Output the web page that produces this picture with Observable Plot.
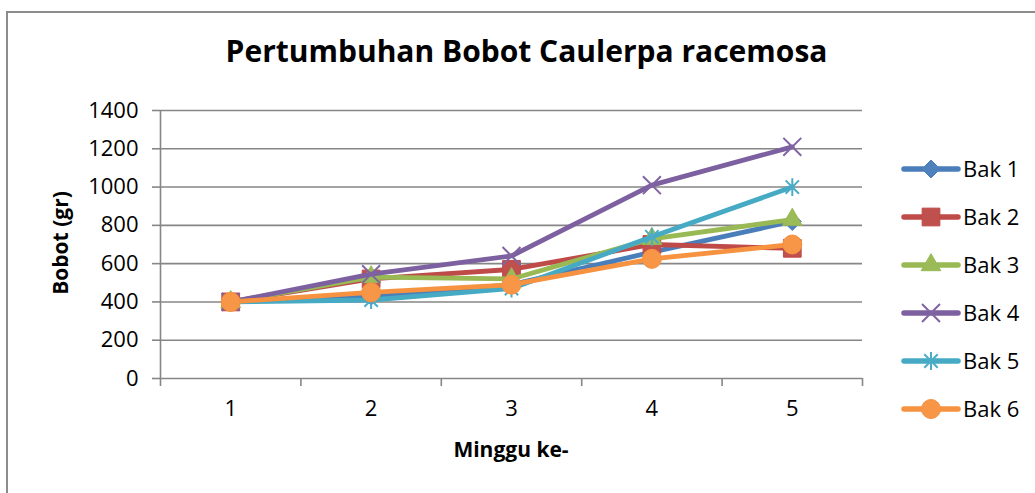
<!DOCTYPE html>
<html>
<head>
<meta charset="utf-8">
<script src="https://cdn.jsdelivr.net/npm/d3@7"></script>
<script src="https://cdn.jsdelivr.net/npm/@observablehq/plot@0.6"></script>
<style>
  html, body { margin: 0; padding: 0; background: #fff; overflow: hidden; }
  #wrap { position: relative; width: 1035px; height: 493px; overflow: hidden; font-family: "Open Sans", sans-serif; }
  #border { position: absolute; left: 6px; top: 11px; width: 1100px; height: 600px; border: 2px solid #8c8c8c; box-sizing: border-box; }
  #chart, #overlay { position: absolute; left: 0; top: 0; }
</style>
</head>
<body>
<div id="wrap">
  <div id="border"></div>
  <div id="chart"></div>
  <svg id="overlay" width="1035" height="493"></svg>
</div>
<script>
// ---- data ----
const title = "Pertumbuhan Bobot Caulerpa racemosa";
const xTitle = "Minggu ke-";
const yTitle = "Bobot (gr)";
const weeks = [1, 2, 3, 4, 5];
const seriesNames = ["Bak 1", "Bak 2", "Bak 3", "Bak 4", "Bak 5", "Bak 6"];
const bak1 = [400, 430, 490, 660, 820];
const bak2 = [400, 520, 570, 700, 680];
const bak3 = [400, 530, 520, 730, 830];
const bak4 = [400, 545, 640, 1010, 1210];
const bak5 = [400, 410, 470, 740, 1000];
const bak6 = [400, 450, 490, 625, 700];
const yTicks = [0, 200, 400, 600, 800, 1000, 1200, 1400];

const seriesValues = [bak1, bak2, bak3, bak4, bak5, bak6];
const lineColors = ["#4A7EBB", "#BE4B48", "#98B954", "#7D60A0", "#46AAC5", "#F69240"];
const markColors = ["#4F81BD", "#C0504D", "#9BBB59", "#8064A2", "#4BACC6", "#F79646"];

// Excel-style star marker: vertical bar plus an X
const excelStar = {
  draw(context, size) {
    const r = Math.sqrt(size / Math.PI) * 1.05;
    const k = r * 0.75;
    context.moveTo(0, -r); context.lineTo(0, r);
    context.moveTo(-k, -k); context.lineTo(k, k);
    context.moveTo(-k, k); context.lineTo(k, -k);
  }
};
const symbolObjs = [d3.symbolDiamond2, d3.symbolSquare, d3.symbolTriangle, d3.symbolTimes, excelStar, d3.symbolCircle];
const symbolR = [8.1, 10, 7.3, 8.2, 8.5, 9.5];
const strokeOnly = [false, false, false, true, true, false];

const rows = seriesNames.flatMap((s, i) =>
  weeks.map((w, j) => ({ series: s, week: w, value: seriesValues[i][j] })));
const boundaries = [0.5, ...weeks.map(w => w + 0.5)];

const grid = "#868686";
const fmt = d => String(d);
const marks = [
  Plot.gridY(yTicks, { stroke: grid, strokeOpacity: 1, strokeWidth: 1.6 }),
  Plot.axisY(yTicks, { tickSize: 8, tickPadding: 14, stroke: grid, strokeWidth: 1.6, label: null, fill: "#000", tickFormat: fmt }),
  Plot.axisX(boundaries, { tickSize: 8, tickFormat: () => "", stroke: grid, strokeWidth: 1.6, label: null }),
  Plot.axisX(weeks, { tickSize: 0, tickPadding: 22, label: null, fill: "#000", tickFormat: fmt }),
  Plot.ruleX([0.5], { stroke: grid, strokeWidth: 1.6 })
];
seriesNames.forEach((s, i) => {
  const d = rows.filter(r => r.series === s);
  marks.push(Plot.line(d, { x: "week", y: "value", stroke: lineColors[i], strokeWidth: 4.8, strokeLinejoin: "round", strokeLinecap: "round" }));
  marks.push(Plot.dot(d, strokeOnly[i]
    ? { x: "week", y: "value", symbol: symbolObjs[i], r: symbolR[i], stroke: markColors[i], strokeWidth: 2, fill: "none" }
    : { x: "week", y: "value", symbol: symbolObjs[i], r: symbolR[i], fill: markColors[i], stroke: lineColors[i], strokeWidth: 1 }));
});

const plot = Plot.plot({
  width: 1035,
  height: 493,
  marginLeft: 160,
  marginRight: 173,
  marginTop: 110,
  marginBottom: 115,
  x: { type: "linear", domain: [0.5, 5.5] },
  y: { domain: [0, 1400] },
  style: { fontFamily: "Open Sans, sans-serif", fontSize: "22px", color: "#000", background: "transparent", overflow: "visible" },
  marks
});
document.getElementById("chart").appendChild(plot);

// ---- titles & legend ----
const ov = d3.select("#overlay");
ov.append("text").attr("x", 526.5).attr("y", 62).attr("text-anchor", "middle")
  .attr("font-family", "Open Sans, sans-serif").attr("font-weight", "bold").attr("font-size", 30).text(title);
ov.append("text").attr("x", 511).attr("y", 457).attr("text-anchor", "middle")
  .attr("font-family", "Open Sans, sans-serif").attr("font-weight", "bold").attr("font-size", 21).text(xTitle);
ov.append("text").attr("transform", "translate(68,243) rotate(-90)").attr("text-anchor", "middle")
  .attr("font-family", "Open Sans, sans-serif").attr("font-weight", "bold").attr("font-size", 21).text(yTitle);

seriesNames.forEach((s, i) => {
  const y = 169 + i * 48;
  const g = ov.append("g");
  g.append("line").attr("x1", 904).attr("x2", 958).attr("y1", y).attr("y2", y)
    .attr("stroke", lineColors[i]).attr("stroke-width", 5.5).attr("stroke-linecap", "round");
  const p = g.append("path").attr("transform", `translate(931,${y})`)
    .attr("d", d3.symbol(symbolObjs[i], Math.PI * symbolR[i] * symbolR[i])());
  if (strokeOnly[i]) p.attr("fill", "none").attr("stroke", markColors[i]).attr("stroke-width", 2);
  else p.attr("fill", markColors[i]).attr("stroke", lineColors[i]).attr("stroke-width", 1);
  g.append("text").attr("x", 963).attr("y", y).attr("dy", "0.36em")
    .attr("font-family", "Open Sans, sans-serif").attr("font-size", 22).text(s);
});
</script>
</body>
</html>
